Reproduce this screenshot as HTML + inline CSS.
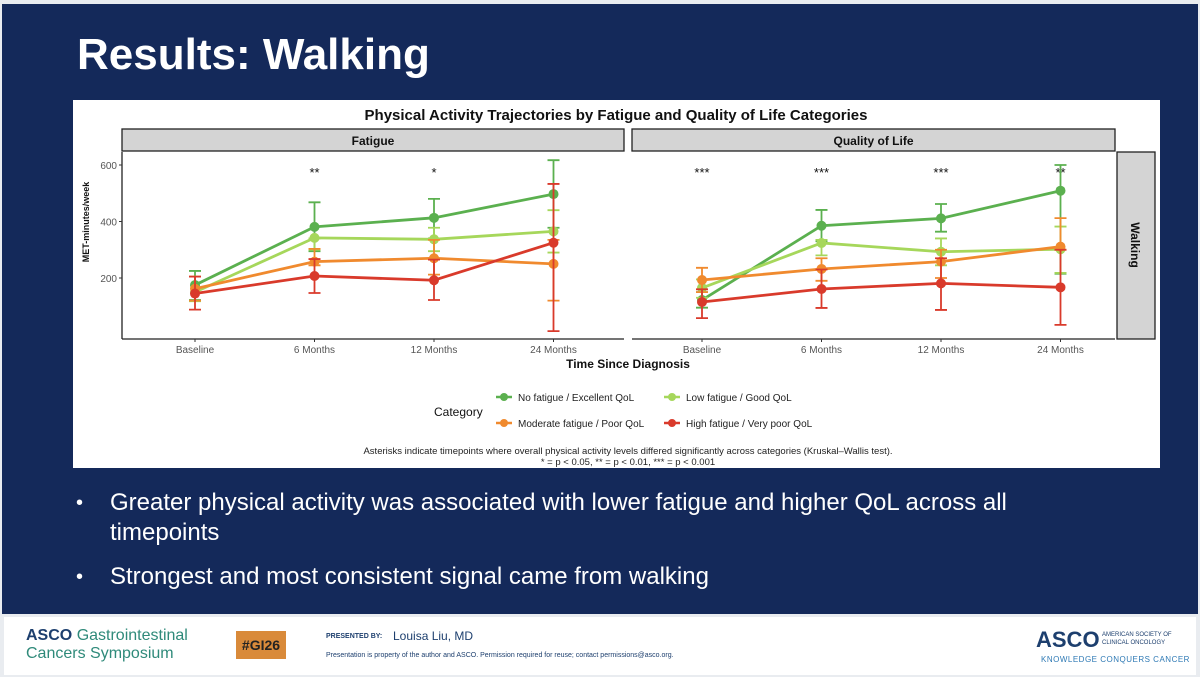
<!DOCTYPE html>
<html><head><meta charset="utf-8">
<style>
body{margin:0;width:1200px;height:677px;overflow:hidden;background:#fff;font-family:"Liberation Sans",sans-serif;}
#slide{position:absolute;left:0;top:0;width:1200px;height:677px;background:#e9ecf0;}
#navy{position:absolute;left:2px;top:4px;width:1196px;height:610px;background:#14295a;}
#title{position:absolute;left:77px;top:30px;color:#fff;font-size:44px;font-weight:bold;}
#chartbox{position:absolute;left:73px;top:100px;width:1087px;height:368px;background:#fff;}
.bullet{position:absolute;color:#fff;font-size:24px;line-height:30px;}
#footer{position:absolute;left:4px;top:617px;width:1192px;height:58px;background:#fff;}
</style></head><body>
<div id="slide">
<div id="navy"></div>
<div id="title">Results: Walking</div>
<div id="chartbox">
<svg id="chart" width="1087" height="368"></svg>
</div>
<div class="bullet" style="left:76px;top:488px;font-size:20px">•</div>
<div class="bullet" style="left:110px;top:488px;width:940px">Greater physical activity was associated with lower fatigue and higher QoL across all timepoints</div>
<div class="bullet" style="left:76px;top:562px;font-size:20px">•</div>
<div class="bullet" style="left:110px;top:562px">Strongest and most consistent signal came from walking</div>
<div id="footer">
 <div style="position:absolute;left:22px;top:10px;font-size:16px;color:#1d3f6e;line-height:18px"><b>ASCO</b> <span style="color:#2f8a7a">Gastrointestinal</span><br><span style="color:#2f8a7a">Cancers Symposium</span></div>
 <div style="position:absolute;left:232px;top:14px;width:50px;height:28px;background:#d98a3a;color:#222;font-size:14px;font-weight:bold;text-align:center;line-height:28px">#GI26</div>
 <div style="position:absolute;left:322px;top:16px;font-size:7px;font-weight:bold;color:#1d3f6e">PRESENTED BY:</div>
 <div style="position:absolute;left:389px;top:12px;font-size:12px;color:#1d3f6e">Louisa Liu, MD</div>
 <div style="position:absolute;left:322px;top:35px;font-size:7px;color:#1d3f6e">Presentation is property of the author and ASCO. Permission required for reuse; contact permissions@asco.org.</div>
 <div style="position:absolute;left:1032px;top:10px;font-size:22px;font-weight:bold;color:#1d3f6e">ASCO</div>
 <div style="position:absolute;left:1098px;top:14px;font-size:6px;color:#1d3f6e;line-height:8px">AMERICAN SOCIETY OF<br>CLINICAL ONCOLOGY</div>
 <div style="position:absolute;left:1037px;top:38px;font-size:8px;color:#2f7ab5;letter-spacing:0.5px">KNOWLEDGE CONQUERS CANCER</div>
</div>
</div>
<script>
const categories=["No fatigue / Excellent QoL","Low fatigue / Good QoL","Moderate fatigue / Poor QoL","High fatigue / Very poor QoL"];
const colors=["#5bb04f","#a6d75b","#f08a2e","#d93a2b"];
const timepoints=["Baseline","6 Months","12 Months","24 Months"];
const yTicks=[200,400,600];
// Fatigue panel
const fatMean=[[175,381,413,497],[150,342,337,365],[162,258,270,250],[145,207,192,325]];
const fatLo=[[122,295,340,378],[118,300,295,290],[120,245,212,120],[88,147,122,12]];
const fatHi=[[225,468,480,617],[205,340,378,440],[205,303,335,335],[205,267,265,533]];
const fatStars=["","**","*",""];
// QoL panel
const qolMean=[[122,385,411,509],[165,324,293,302],[193,232,258,311],[115,161,181,167]];
const qolLo=[[95,330,364,215],[130,280,245,218],[150,190,200,300],[58,94,87,34]];
const qolHi=[[150,441,462,600],[195,335,340,382],[236,270,300,412],[160,230,270,300]];
const qolStars=["***","***","***","**"];

const svg=document.getElementById('chart');const NS="http://www.w3.org/2000/svg";
function el(t,a,txt){const e=document.createElementNS(NS,t);for(const k in a)e.setAttribute(k,a[k]);if(txt!==undefined)e.textContent=txt;svg.appendChild(e);return e;}
const OX=73,OY=100;
function y(v){return 278-OY-(v-200)*0.2825;}
const panels=[{x0:122,x1:624,label:"Fatigue",mean:fatMean,lo:fatLo,hi:fatHi,stars:fatStars,name:"fatigue"},
              {x0:632,x1:1115,label:"Quality of Life",mean:qolMean,lo:qolLo,hi:qolHi,stars:qolStars,name:"qol"}];
const px=[122,629];
let t=el('text',{x:543,y:20,'font-size':15,'font-weight':'bold','text-anchor':'middle',fill:'#111'},"Physical Activity Trajectories by Fatigue and Quality of Life Categories");


panels.forEach((p,pi)=>{
  let s=el('rect',{x:p.x0-OX,y:29,width:p.x1-p.x0,height:22,fill:'#d4d4d4',stroke:'#222','stroke-width':1.3});
  
  
  let st=el('text',{x:(p.x0+p.x1)/2-OX,y:45,'font-size':12,'font-weight':'bold','text-anchor':'middle',fill:'#111'},p.label);
  
  
  let ax=el('line',{x1:p.x0-OX,x2:p.x1-OX,y1:339-OY,y2:339-OY,stroke:'#222','stroke-width':1.3});
  
  
  timepoints.forEach((tp,i)=>{
    const x=px[pi]+i*119.5+73-OX;
    let tl=el('text',{x:x,y:353-OY,'font-size':10,'text-anchor':'middle',fill:'#555'},tp);
    
    
    el('line',{x1:x,x2:x,y1:339-OY,y2:342-OY,stroke:'#333'});
    if(p.stars[i]){let sl=el('text',{x:x,y:177-OY,'font-size':13,'text-anchor':'middle',fill:'#111'},p.stars[i]);
      
      }
  });
  p.mean.forEach((ser,ci)=>{
    const xs=ser.map((v,i)=>px[pi]+i*119.5+73-OX);
    ser.forEach((v,i)=>{
      const x=xs[i];
      let eb=el('path',{d:`M${x},${y(p.lo[ci][i])}V${y(p.hi[ci][i])}M${x-6},${y(p.lo[ci][i])}h12M${x-6},${y(p.hi[ci][i])}h12`,stroke:colors[ci],'stroke-width':1.8,fill:'none'});
      
      
    });
    let ln=el('polyline',{points:ser.map((v,i)=>xs[i]+','+y(v)).join(' '),stroke:colors[ci],'stroke-width':2.8,fill:'none'});
    
    
    ser.forEach((v,i)=>{let c=el('circle',{cx:xs[i],cy:y(v),r:5,fill:colors[ci]});
      
      });
  });
});
let ya=el('line',{x1:122-OX,x2:122-OX,y1:152-OY,y2:339-OY,stroke:'#222','stroke-width':1.3});


yTicks.forEach(v=>{let tl=el('text',{x:117-OX,y:y(v)+4,'font-size':10,'text-anchor':'end',fill:'#555'},v);
  
  
  el('line',{x1:119-OX,x2:122-OX,y1:y(v),y2:y(v),stroke:'#333'});});
let yt=el('text',{x:0,y:0,'font-size':9,'font-weight':'bold','text-anchor':'middle',fill:'#111',transform:`translate(${89-OX},${222-OY}) rotate(-90)`},"MET-minutes/week");


let rs=el('rect',{x:1117-OX,y:152-OY,width:38,height:187,fill:'#d4d4d4',stroke:'#222','stroke-width':1.3});


let rt=el('text',{x:0,y:0,'font-size':12,'font-weight':'bold','text-anchor':'middle',fill:'#111',transform:`translate(${1131-OX},${245-OY}) rotate(90)`},"Walking");


let xt=el('text',{x:628-OX,y:368-OY,'font-size':12,'font-weight':'bold','text-anchor':'middle',fill:'#111'},"Time Since Diagnosis");


let lt=el('text',{x:434-OX,y:416-OY,'font-size':12,fill:'#111'},"Category");


const legPos=[[504,397],[672,397],[504,423],[672,423]];
categories.forEach((c,i)=>{
  const [lx,ly]=legPos[i];
  el('line',{x1:lx-8-OX,x2:lx+8-OX,y1:ly-OY,y2:ly-OY,stroke:colors[i],'stroke-width':2.5});
  el('circle',{cx:lx-OX,cy:ly-OY,r:4,fill:colors[i]});
  let le=el('text',{x:lx+14-OX,y:ly+4-OY,'font-size':10,fill:'#222'},c);
  
  
});
let n1=el('text',{x:628-OX,y:454-OY,'font-size':9.5,'text-anchor':'middle',fill:'#222'},"Asterisks indicate timepoints where overall physical activity levels differed significantly across categories (Kruskal–Wallis test).");


let n2=el('text',{x:628-OX,y:465-OY,'font-size':9.5,'text-anchor':'middle',fill:'#222'},"* = p < 0.05, ** = p < 0.01, *** = p < 0.001");


</script>
</body></html>
